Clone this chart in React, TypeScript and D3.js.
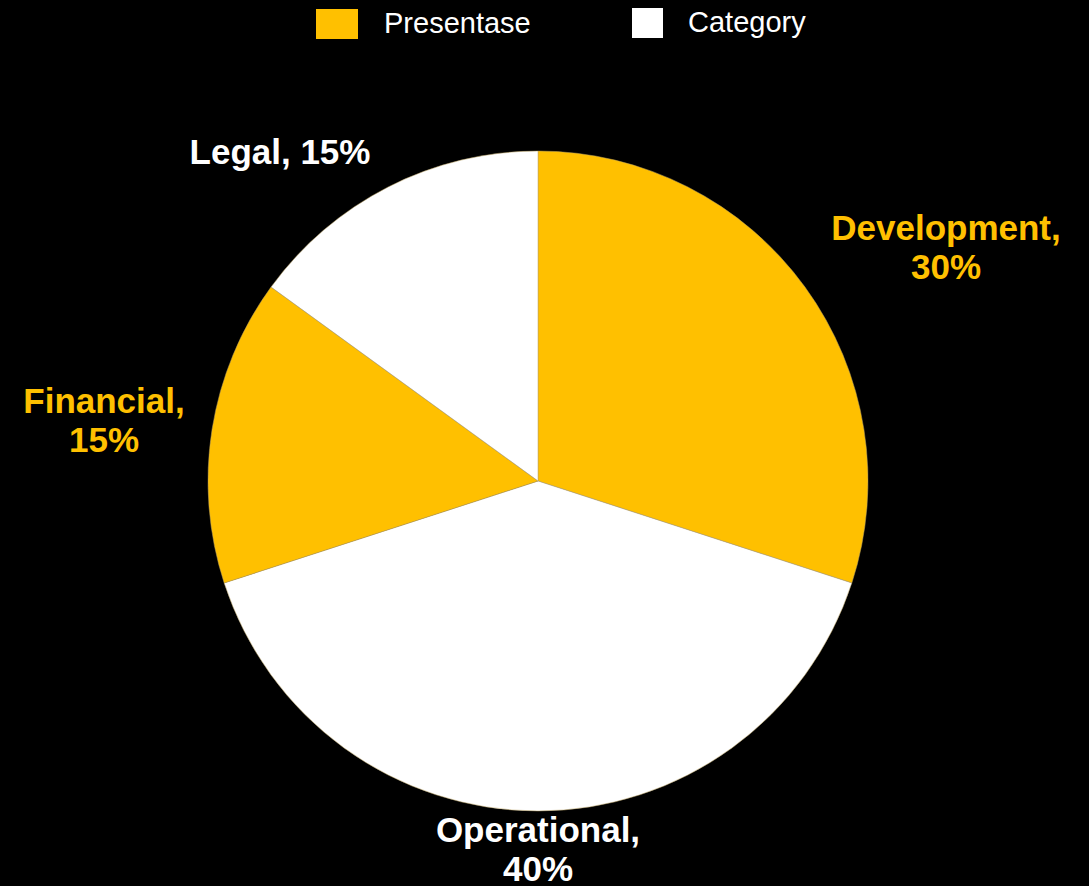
import React from "react";
import * as d3 from "d3";

const categories = ["Development", "Operational", "Financial", "Legal"];
const values = [30, 40, 15, 15];
const sliceColors = ["#FFC000", "#FFFFFF", "#FFC000", "#FFFFFF"];
const labelColors = ["#FFC000", "#FFFFFF", "#FFC000", "#FFFFFF"];
const legendNames = ["Presentase", "Category"];
const legendColors = ["#FFC000", "#FFFFFF"];

const W = 1089, H = 886;
const cx = 538, cy = 481, R = 330;

export default function App() {
  const pie = d3.pie<number>().sort(null).value((d) => d)(values);
  const arc = d3.arc<d3.PieArcDatum<number>>().innerRadius(0).outerRadius(R);
  const labelLines: { lines: string[]; x: number; y: number; anchor: string }[] = [
    { lines: ["Development,", "30%"], x: 946, y: 240, anchor: "middle" },
    { lines: ["Operational,", "40%"], x: 538, y: 842, anchor: "middle" },
    { lines: ["Financial,", "15%"], x: 104, y: 413, anchor: "middle" },
    { lines: ["Legal, 15%"], x: 280, y: 164, anchor: "middle" },
  ];
  return (
    <svg width={W} height={H} style={{ position: "absolute", left: 0, top: 0, background: "#000" }}>
      <rect x={0} y={0} width={W} height={H} fill="#000" />
      <g transform={`translate(${cx},${cy})`}>
        {pie.map((p, i) => (
          <path key={categories[i]} d={arc(p) || ""} fill={sliceColors[i]} stroke="#b8a060" strokeWidth={0.5} />
        ))}
      </g>
      <rect x={316} y={9} width={42} height={30} fill={legendColors[0]} />
      <text x={384} y={33} fill="#fff" fontFamily="Liberation Sans, Arial, sans-serif" fontSize={29}>{legendNames[0]}</text>
      <rect x={632} y={8} width={31} height={30} fill={legendColors[1]} />
      <text x={688} y={32} fill="#fff" fontFamily="Liberation Sans, Arial, sans-serif" fontSize={29}>{legendNames[1]}</text>
      {labelLines.map((l, i) => (
        <text key={i} x={l.x} y={l.y} textAnchor={l.anchor as any} fill={labelColors[i]}
          fontFamily="Liberation Sans, Arial, sans-serif" fontWeight="bold" fontSize={35}>
          {l.lines.map((s, j) => (
            <tspan key={j} x={l.x} dy={j === 0 ? 0 : 39}>{s}</tspan>
          ))}
        </text>
      ))}
    </svg>
  );
}
